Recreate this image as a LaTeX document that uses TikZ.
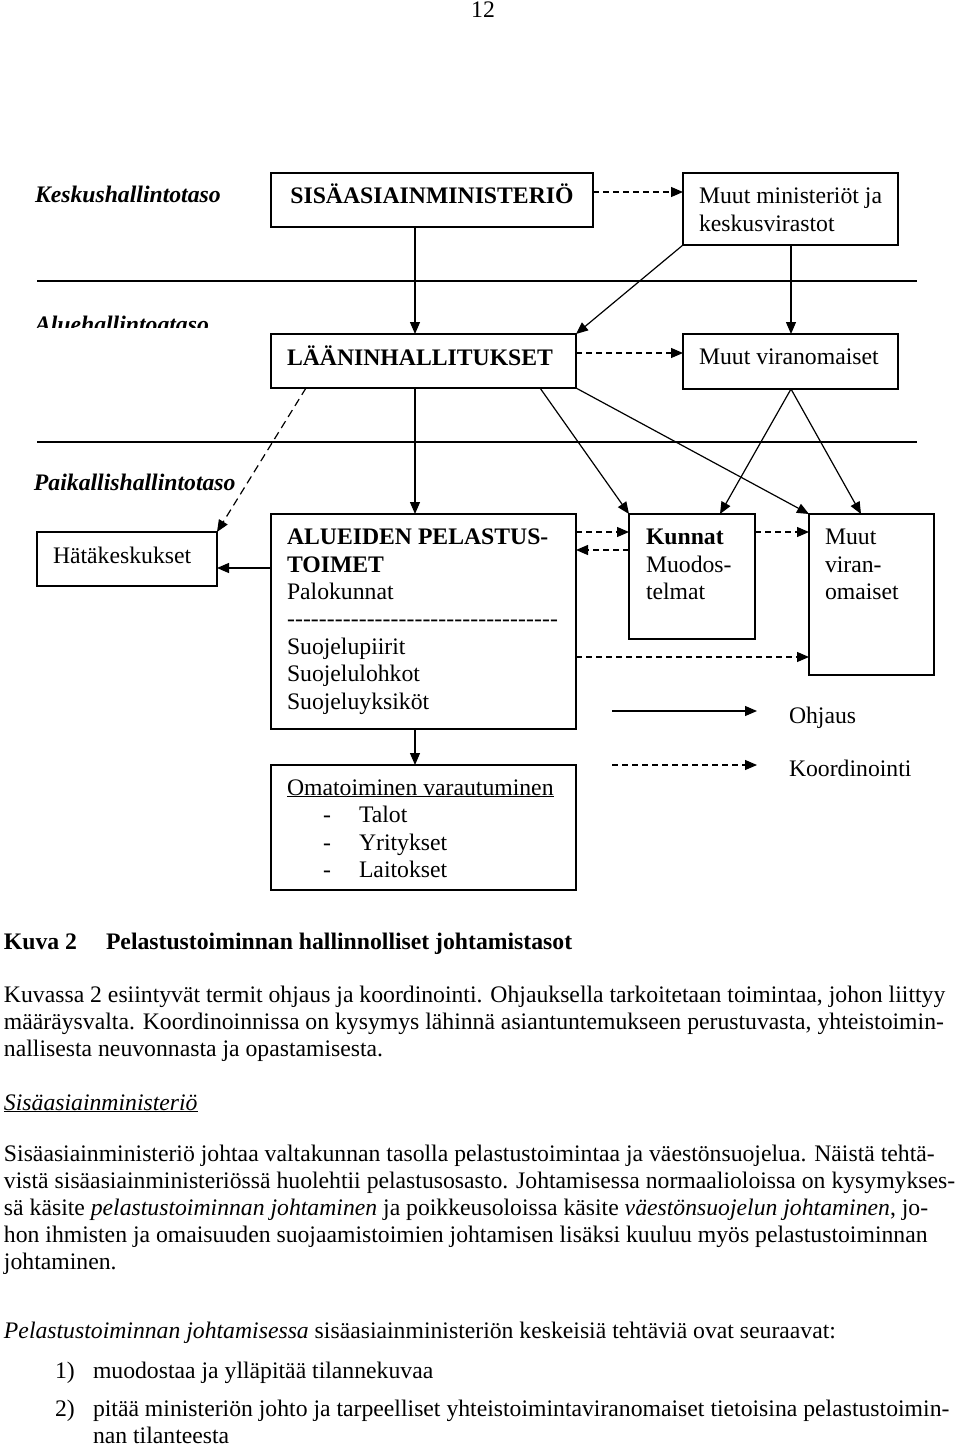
\documentclass[tikz,border=0pt]{standalone}
\usepackage{fontspec}
\setmainfont{Liberation Serif}
\usetikzlibrary{arrows.meta}
\newcommand\fsz{\fontsize{23.7}{27}\selectfont}
\begin{document}
\begin{tikzpicture}[x=1pt,y=-1pt,
  every node/.style={inner sep=0pt, outer sep=0pt},
  box/.style={draw, line width=1.5pt, anchor=north west, rectangle},
  txt/.style={anchor=base west, font=\fsz},
  btxt/.style={txt, font=\fsz\bfseries},
  ctl/.style={line width=1.2pt, -{Triangle[length=12pt,width=10pt]}},
  crd/.style={ctl, dash pattern=on 6pt off 4pt},
  sep/.style={line width=1.8pt}]
\useasboundingbox (0,0) rectangle (960,1446);
\fill[white] (0,0) rectangle (960,1446);

% page number
\node[txt, anchor=base] (pg) at (483,17) {12};

% level labels
\node[txt, font=\fsz\bfseries\itshape] (lk) at (35,202) {Keskushallintotaso};
\begin{scope}
  \clip (0,295) rectangle (400,327);
  \node[txt, font=\fsz\bfseries\itshape] (la) at (35,332) {Aluehallintoataso};
\end{scope}
\node[txt, font=\fsz\bfseries\itshape] (lp) at (34,490) {Paikallishallintotaso};

% separators
\draw[sep] (37,281) -- (917,281);
\draw[sep] (37,442) -- (917,442);

% boxes
\node[box, minimum width=322pt, minimum height=54pt] (sisa) at (271,173) {};
\node[box, minimum width=215pt, minimum height=72pt] (mmin) at (683,173) {};
\node[box, minimum width=305pt, minimum height=54pt] (laan) at (271,334) {};
\node[box, minimum width=215pt, minimum height=55pt] (mvir) at (683,334) {};
\node[box, minimum width=180pt, minimum height=54pt] (hata) at (37,532) {};
\node[box, minimum width=305pt, minimum height=215pt] (alue) at (271,514) {};
\node[box, minimum width=126pt, minimum height=125pt] (kun) at (629,514) {};
\node[box, minimum width=125pt, minimum height=161pt] (mv2) at (809,514) {};
\node[box, minimum width=305pt, minimum height=125pt] (oma) at (271,765) {};

% box texts
\node[btxt, anchor=base] (tsisa) at (432,203) {SISÄASIAINMINISTERIÖ};
\node[txt] (tmm1) at (699,203) {Muut ministeriöt ja};
\node[txt] (tmm2) at (699,231) {keskusvirastot};
\node[btxt] (tlaan) at (287,365) {LÄÄNINHALLITUKSET};
\node[txt] (tmvir) at (699,364) {Muut viranomaiset};
\node[txt] (thata) at (53,563) {Hätäkeskukset};

\node[btxt] (ta1) at (287,544) {ALUEIDEN PELASTUS-};
\node[btxt] (ta2) at (287,572) {TOIMET};
\node[txt] (ta3) at (287,599) {Palokunnat};
\node[txt] (ta4) at (287,626) {\makebox[271pt][l]{\xleaders\hbox{-}\hfill}};
\node[txt] (ta5) at (287,654) {Suojelupiirit};
\node[txt] (ta6) at (287,681) {Suojelulohkot};
\node[txt] (ta7) at (287,709) {Suojeluyksiköt};

\node[btxt] (tk1) at (646,544) {Kunnat};
\node[txt] (tk2) at (646,572) {Muodos-};
\node[txt] (tk3) at (646,599) {telmat};

\node[txt] (tv1) at (825,544) {Muut};
\node[txt] (tv2) at (825,572) {viran-};
\node[txt] (tv3) at (825,599) {omaiset};

\node[txt] (to1) at (287,795) {\underline{Omatoiminen varautuminen}};
\node[txt] (to2d) at (323,822) {-};
\node[txt] (to2) at (359,822) {Talot};
\node[txt] (to3d) at (323,850) {-};
\node[txt] (to3) at (359,850) {Yritykset};
\node[txt] (to4d) at (323,877) {-};
\node[txt] (to4) at (359,877) {Laitokset};

% connectors
\draw[ctl] ([xshift=144pt]sisa.south west) -- ([xshift=144pt]laan.north west);
\draw[ctl] (mmin.south west) -- (laan.north east);
\draw[ctl] ([xshift=108pt]mmin.south west) -- ([xshift=108pt]mvir.north west);
\draw[crd] ([yshift=8pt]sisa.east) -- ([yshift=8pt]sisa.east -| mmin.west);
\draw[crd] ([yshift=8pt]laan.east) -- ([yshift=8pt]laan.east -| mvir.west);
\draw[crd, dash pattern=on 8pt off 5pt] ([xshift=35pt]laan.south west) -- (hata.north east);
\draw[ctl] ([xshift=144pt]laan.south west) -- ([xshift=144pt]alue.north west);
\draw[ctl] ([xshift=269pt]laan.south west) -- (kun.north west);
\draw[ctl] (laan.south east) -- (mv2.north west);
\draw[ctl] ([xshift=108pt]mvir.south west) -- ([xshift=91pt]kun.north west);
\draw[ctl] ([xshift=108pt]mvir.south west) -- ([xshift=52pt]mv2.north west);
\draw[ctl] ([yshift=-54pt]alue.north west) -- ([yshift=-54pt]alue.north west -| hata.east);
\draw[crd] ([yshift=-18pt]alue.north east) -- ([yshift=-18pt]alue.north east -| kun.west);
\draw[crd] ([yshift=-36pt]kun.north west) -- ([yshift=-36pt]kun.north west -| alue.east);
\draw[crd] ([yshift=-18pt]kun.north east) -- ([yshift=-18pt]kun.north east -| mv2.west);
\draw[crd] ([yshift=-143pt]alue.north east) -- ([yshift=-143pt]alue.north east -| mv2.west);
\draw[ctl] ([xshift=144pt]alue.south west) -- ([xshift=144pt]oma.north west);

% legend
\coordinate (l1a) at (612,711);
\coordinate (l1b) at (757,711);
\coordinate (l2a) at (612,765);
\coordinate (l2b) at (757,765);
\draw[ctl] (l1a) -- (l1b);
\draw[crd] (l2a) -- (l2b);
\node[txt] (tl1) at (789,723) {Ohjaus};
\node[txt] (tl2) at (789,776) {Koordinointi};

% caption and body text
\node[btxt] (cap1) at (4,949) {Kuva 2};
\node[btxt] (cap2) at (106,949) {Pelastustoiminnan hallinnolliset johtamistasot};
\node[txt] (p1) at (4,1002) {Kuvassa 2 esiintyvät termit ohjaus ja koordinointi. Ohjauksella tarkoitetaan toimintaa, johon liittyy};
\node[txt] (p2) at (4,1029) {määräysvalta. Koordinoinnissa on kysymys lähinnä asiantuntemukseen perustuvasta, yhteistoimin-};
\node[txt] (p3) at (4,1056) {nallisesta neuvonnasta ja opastamisesta.};
\node[txt] (h1) at (4,1110) {\underline{\itshape Sisäasiainministeriö}};
\node[txt] (q1) at (4,1161) {Sisäasiainministeriö johtaa valtakunnan tasolla pelastustoimintaa ja väestönsuojelua. Näistä tehtä-};
\node[txt] (q2) at (4,1188) {vistä sisäasiainministeriössä huolehtii pelastusosasto. Johtamisessa normaalioloissa on kysymykses-};
\node[txt] (q3) at (4,1215) {sä käsite \textit{pelastustoiminnan johtaminen} ja poikkeusoloissa käsite \textit{väestönsuojelun johtaminen}, jo-};
\node[txt] (q4) at (4,1242) {hon ihmisten ja omaisuuden suojaamistoimien johtamisen lisäksi kuuluu myös pelastustoiminnan};
\node[txt] (q5) at (4,1269) {johtaminen.};
\node[txt] (r1) at (4,1338) {\textit{Pelastustoiminnan johtamisessa} sisäasiainministeriön keskeisiä tehtäviä ovat seuraavat:};
\node[txt] (n1) at (55,1378) {1)};
\node[txt] (n1t) at (93,1378) {muodostaa ja ylläpitää tilannekuvaa};
\node[txt] (n2) at (55,1416) {2)};
\node[txt] (n2t) at (93,1416) {pitää ministeriön johto ja tarpeelliset yhteistoimintaviranomaiset tietoisina pelastustoimin-};
\node[txt] (n2u) at (93,1443) {nan tilanteesta};
\end{tikzpicture}
\end{document}
